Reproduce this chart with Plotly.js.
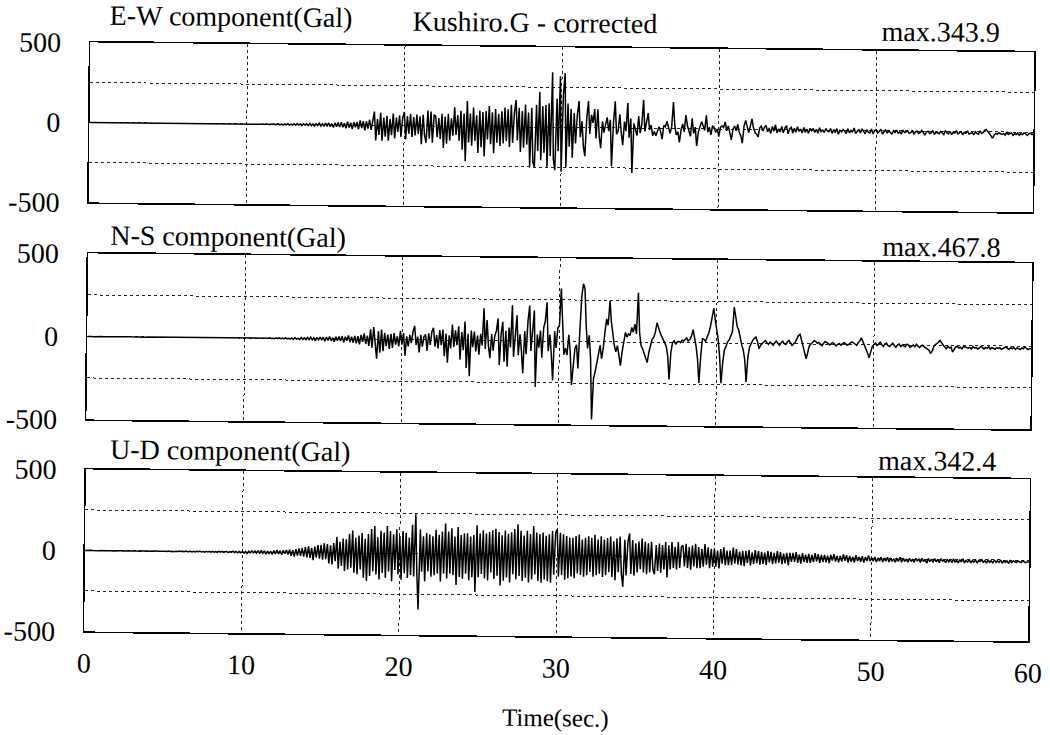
<!DOCTYPE html>
<html><head><meta charset="utf-8">
<script src="https://cdn.plot.ly/plotly-3.0.1.min.js"></script>
<style>
html,body{margin:0;padding:0;background:#fff;overflow:hidden}
#chart{width:1050px;height:735px;transform:rotate(0.6deg);transform-origin:525px 367px;}
</style>
</head><body><div id="chart"></div>
<script>
// Sampling of the records (seconds)
const startTime = 0;
const sampleStep = 0.1;

// E-W component acceleration (Gal), one row per second
const ewAccel = [
0,0,1,0,0,-1,0,0,1,0,
0,-1,0,1,0,0,-1,0,0,1,
0,0,-1,0,1,0,0,1,0,-1,
0,1,0,0,-1,0,1,0,0,0,
-1,0,1,0,0,-1,0,0,1,0,
0,0,-1,1,0,0,1,-1,0,0,
1,0,0,-1,0,1,0,0,-1,0,
0,1,-1,0,0,1,0,-1,0,1,
0,-1,0,1,0,0,-1,1,0,0,
1,0,-1,0,2,-1,0,1,-2,0,
2,-1,0,2,-2,1,0,-1,2,-1,
3,-2,1,2,-3,2,-1,3,-2,1,
4,-3,2,-4,3,-2,5,-4,2,-3,
5,-4,6,-3,4,-6,5,-2,6,-5,
8,-6,5,-9,7,-4,10,-8,6,-10,
12,-9,14,-11,8,-15,13,-10,16,-12,
18,-14,12,-20,22,-16,15,-24,19,-13,
20,-25,30,-18,26,-32,24,-20,35,-28,
30,86,-94,40,-60,80,-95,50,-70,60,
-95,40,-60,75,-80,50,-40,65,-70,50,
86,-85,60,-50,75,-70,55,-60,70,-50,
60,-115,70,-60,-105,96,-80,90,-105,70,
60,-70,50,-80,77,-136,60,-110,77,-90,
50,-60,118,-55,70,-90,97,-146,80,-218,
158,-100,80,-120,118,-90,70,-166,100,-130,
90,-187,97,-80,128,-110,90,-166,110,-100,
80,-120,97,-105,120,-90,110,-126,138,-100,
90,168,-85,120,-156,100,-130,140,-110,90,
-248,120,-220,-248,140,-150,219,-207,130,-160,
138,-248,150,-180,343.9,-200,-268,180,-150,320,
-278,200,339,-250,150,-120,116,-189,90,-100,
80,166,-60,40,-118,-179,60,166,-40,80,
30,116,-67,116,-50,-128,40,-30,20,65,
-20,50,-240,30,166,-40,-20,85,-30,-108,
40,-20,156,-60,60,-280,30,-20,-47,75,
-30,20,177,-20,40,95,-10,20,-47,-20,
-47,-10,10,-20,-67,20,10,45,0,-30,
10,166,20,-40,-20,-87,-10,30,-20,85,
20,-20,-47,65,-30,10,-108,-20,20,45,
20,-10,85,-20,10,-37,20,10,-20,0,
-47,10,20,10,45,-10,20,-20,-67,0,
20,-10,30,-20,-40,-87,20,55,10,-20,
20,65,10,-20,-30,-47,10,20,-10,15,
25,-15,10,-25,20,-10,30,-20,5,-15,
20,-20,10,25,-25,5,15,-20,10,-15,
20,-10,5,-20,15,-15,5,-20,10,-5,
10,-15,5,-20,15,-10,0,-15,10,-5,
-10,10,-20,5,-15,10,-25,0,-10,5,
-5,-20,10,-15,0,-10,15,-20,-5,5,
-15,10,-5,-20,5,-10,-15,10,-20,0,
5,-15,-5,10,-20,-10,5,-15,0,-10,
-20,0,-10,5,-15,-5,-20,5,-10,-5,
0,-15,-10,5,-20,-5,0,-15,-10,5,
-10,-25,-5,0,-15,-10,5,-20,-5,-10,
-15,0,-10,-20,5,-10,-15,0,-20,-5,
-10,5,-15,-10,0,-20,-5,-10,5,-15,
-10,-5,-20,0,-10,-15,5,-10,-5,10,
15,5,-10,-25,-40,-20,-10,-15,-5,-10,
-15,-10,-20,0,-15,-10,-5,-20,-10,-15,
-5,-20,-10,-15,-5,-10,-20,-10,-5,-15,
-10
];

// N-S component acceleration (Gal)
const nsAccel = [
0,1,0,0,-1,0,0,1,0,0,
-1,0,0,1,0,-1,0,0,1,0,
0,0,1,-1,0,0,1,0,-1,0,
1,0,0,-1,0,1,0,-1,0,0,
0,1,0,0,-1,0,0,1,-1,0,
0,-1,1,0,0,-1,0,1,0,0,
1,0,-1,0,1,0,0,-1,0,1,
0,0,1,0,-1,1,0,0,-1,0,
0,1,0,-1,0,0,1,0,0,-1,
1,0,-1,1,0,-1,2,0,-1,1,
0,1,-1,2,0,-1,1,0,-2,1,
2,-1,0,2,-2,1,3,-1,0,-2,
3,-2,4,-1,2,-3,5,-2,1,-4,
4,-5,6,-3,2,-6,7,-4,5,-6,
8,-5,10,-7,6,-12,9,-6,11,-8,
10,-14,12,-9,15,-11,8,-16,13,-10,
16,-12,18,-20,14,-10,22,-18,15,-22,
20,-25,18,-30,26,-15,35,-28,22,-40,
60,-50,74,-40,-116,50,-80,60,-70,40,
-40,30,-56,34,-50,40,-30,20,-40,54,
-30,40,-96,20,-40,30,-20,50,84,-30,
20,-76,30,-40,20,34,-66,40,-30,50,
74,-40,30,-50,60,-30,64,-96,40,-136,
30,-50,94,-40,60,-30,84,-116,50,-60,
114,-166,40,-216,60,-40,54,-66,30,-86,
40,-30,194,-50,124,-30,-106,40,-60,30,
60,134,-146,40,114,-126,60,-156,80,-40,
214,-96,60,154,-86,40,-60,-196,60,-80,
120,214,-60,60,184,-276,40,-40,64,-100,
80,120,234,-60,40,-80,-236,60,-40,80,
94,318,60,-80,-40,-82,40,-60,-262,-120,
-42,-20,-162,60,268,348,320,100,-40,38,
-100,-467.8,-222,-180,-122,-60,-22,-102,-40,60,
138,100,248,120,38,-20,-60,-22,-80,-142,
-60,0,58,30,50,40,88,60,108,50,
298,58,-20,-40,-72,-100,-122,-60,-20,18,
30,60,118,80,60,38,20,0,-22,-80,
-222,-60,0,10,-10,5,8,0,15,10,
20,28,10,20,40,78,30,-22,-100,-242,
-80,28,20,10,38,60,100,150,208,140,
78,20,-80,-242,-120,-42,-20,8,20,40,
68,218,150,100,78,30,-10,-42,-100,-232,
-80,-22,0,20,30,38,10,-32,-10,0,
10,18,5,-5,10,0,-10,5,15,0,
-10,5,15,0,-5,10,20,5,-10,0,
10,30,50,58,20,0,-40,-90,-50,-10,
0,10,20,15,5,10,0,-10,5,15,
10,0,-5,5,10,0,-10,0,5,-5,
0,10,5,-5,0,10,15,10,0,-5,
10,20,40,20,0,-20,-50,-80,-40,-10,
0,10,-5,5,15,0,-10,5,10,-5,
-10,0,10,-5,-15,0,5,-10,0,-5,
-10,5,0,-15,-5,0,-10,5,-5,-15,
-5,0,-10,-15,-20,-30,-50,-35,-10,5,
10,20,30,15,0,-10,-20,-5,-15,-10,
-40,-25,-10,-5,-15,-10,-20,-5,-10,-15,
-15,-10,-20,-5,-15,-10,-20,-15,-5,-10,
-20,-10,-15,-5,-20,-10,-15,-20,-10,-15,
-10,-20,-15,-10,-5,-15,-20,-10,-15,-10,
-20,-10,-15,-20,-10,-15,-5,-15,-20,-15,
-15
];

// U-D component acceleration (Gal)
const udAccel = [
0,1,-1,0,1,0,-1,0,1,-1,
0,1,-1,1,0,-1,1,0,-1,0,
1,-1,0,1,-1,0,1,-1,1,0,
-1,1,0,-1,1,-1,0,1,-1,1,
0,-1,1,0,-1,2,-1,0,1,-2,
1,0,-1,2,-1,1,-2,1,0,-1,
2,-1,1,-2,2,-1,0,2,-2,1,
-2,2,-1,3,-2,1,-3,2,-1,3,
-2,3,-2,1,-3,4,-2,3,-4,2,
3,-4,2,-3,5,-3,4,-5,3,-4,
5,-6,4,-8,6,-5,7,-4,8,-6,
10,-8,12,-6,9,-11,8,-10,7,-12,
12,-10,15,-9,11,-14,13,-8,16,-12,
18,-20,15,-25,22,-18,26,-20,30,-24,
35,-28,40,-32,30,-45,38,-30,48,-36,
50,-42,60,-38,55,-65,48,-70,62,-50,
100,-97,70,-80,90,-110,85,-100,120,-90,
140,-120,95,-130,110,-100,125,-150,90,-170,
120,-140,150,-110,170,-130,100,-160,140,-120,
130,-150,170,-110,140,-170,120,-100,150,-128,
110,-160,140,-120,130,-150,100,-130,180,-140,
245,-120,-342.4,150,-110,109,-169,130,-107,120,
-140,110,-130,150,-120,120,-169,140,-120,190,
-150,140,-120,160,-130,110,-190,169,-140,120,
-150,130,-120,130,-160,110,-140,120,-231,180,
-140,130,-120,150,-148,130,-160,140,-110,150,
-150,160,-130,140,-190,120,-160,150,-140,130,
-170,140,-120,160,-150,190,-130,150,-160,120,
-140,150,-170,130,-150,180,-120,140,-160,130,
-170,140,-150,120,-160,130,-170,150,-120,140,
160,-130,140,-120,130,-150,120,-140,110,-130,
110,-140,120,-110,130,-120,100,-130,110,-120,
120,-100,110,-130,130,-120,100,-110,120,-130,
100,-120,110,-100,120,-130,90,-150,110,-100,
120,-110,-190,100,-120,90,140,-110,100,-120,
80,-100,90,-80,110,-100,90,-110,80,-100,
90,-80,-110,70,-90,80,-100,70,-80,90,
-130,70,-80,90,-70,60,-80,90,-70,60,
70,-60,80,-70,60,-80,70,-60,80,-70,
60,-70,50,-60,80,-50,60,-70,50,-60,
50,-60,40,-70,50,-40,60,-50,40,-50,
40,-50,60,-40,50,-45,35,-50,40,-55,
40,-35,45,-50,30,-40,45,-35,40,-45,
35,-40,30,-45,40,-30,35,-40,30,-35,
40,-30,35,-40,25,-35,30,-45,30,-25,
30,-25,35,-30,20,-35,30,-25,20,-30,
25,-30,20,-25,30,-20,25,-30,20,-25,
20,-25,15,-30,20,-15,25,-20,15,-25,
15,-20,25,-15,20,-25,15,-20,10,-25,
20,-15,10,-20,15,-25,10,-15,20,-15,
5,-15,10,-20,5,-15,10,-20,5,-15,
10,-20,5,-15,0,-20,5,-15,10,-20,
5,-15,0,-20,5,-15,0,-20,5,-10,
0,-20,5,-15,0,-25,5,-15,0,-20,
5,-15,0,-20,5,-10,-5,-20,0,-15,
0,-20,5,-15,-5,-20,0,-15,5,-20,
-5,-15,0,-20,-5,-15,0,-20,-5,-10,
0,-15,-5,-20,0,-15,-5,-20,0,-15,
-5,-15,0,-20,-5,-15,-5,-20,0,-15,
-5,-10,-15,-5,-10,-15,-5,-10,-15,-10,
-10
];

// Text
const panelLabels = ["E-W component(Gal)", "N-S component(Gal)", "U-D component(Gal)"];
const maxLabels = ["max.343.9", "max.467.8", "max.342.4"];
const chartTitle = "Kushiro.G - corrected";
const xTitle = "Time(sec.)";
const xTickVals = [0, 10, 20, 30, 40, 50, 60];
const yTickVals = [-500, 0, 500];
const yTickText = ["-500", "0", "500"];

const serif = "Liberation Serif";
const series = [ewAccel, nsAccel, udAccel];

const traces = series.map((vals, i) => ({
  type: "scatter",
  mode: "lines",
  x0: startTime,
  dx: sampleStep,
  y: vals,
  xaxis: i === 0 ? "x" : "x" + (i + 1),
  yaxis: i === 0 ? "y" : "y" + (i + 1),
  line: {color: "#000", width: 1.5},
  hoverinfo: "skip",
  showlegend: false
}));

const domains = [[0.7284, 1], [0.3599, 0.6418], [0, 0.2750]];

function xAxis(i) {
  return {
    range: [0, 60],
    tickvals: xTickVals,
    ticktext: xTickVals.map(String),
    showticklabels: i === 2,
    ticks: "",
    ticklabelstandoff: 6,
    showgrid: true,
    griddash: "dot",
    gridcolor: "#222",
    gridwidth: 1,
    zeroline: false,
    showline: true,
    mirror: true,
    linecolor: "#000",
    linewidth: 1.6,
    anchor: i === 0 ? "y" : "y" + (i + 1),
    tickfont: {family: serif, size: 28, color: "#000"},
    title: i === 2 ? {text: xTitle, font: {family: serif, size: 25, color: "#000"}, standoff: 26} : {text: ""},
    automargin: false,
    fixedrange: true
  };
}
function yAxis(i) {
  return {
    domain: domains[i],
    range: [-500, 500],
    tickvals: yTickVals,
    ticktext: yTickText,
    ticks: "",
    ticklabelstandoff: 22,
    showgrid: false,
    zeroline: false,
    showline: true,
    mirror: true,
    linecolor: "#000",
    linewidth: 1.6,
    minor: {dtick: 250, tick0: 0, showgrid: true, griddash: "dot", gridcolor: "#222", gridwidth: 1, ticks: ""},
    anchor: i === 0 ? "x" : "x" + (i + 1),
    tickfont: {family: serif, size: 28, color: "#000"},
    automargin: false,
    fixedrange: true
  };
}

const annFont = {family: serif, size: 28, color: "#000"};
const labelPos = [[0.018, 1.047], [0.021, 0.674], [0.023, 0.309]];
const maxPos = [[0.965, 1.033], [0.968, 0.668], [0.966, 0.3056]];
const annotations = [];
panelLabels.forEach((t, i) => annotations.push({
  text: t, xref: "paper", yref: "paper", x: labelPos[i][0], y: labelPos[i][1],
  xanchor: "left", yanchor: "middle", showarrow: false, font: annFont
}));
maxLabels.forEach((t, i) => annotations.push({
  text: t, xref: "paper", yref: "paper", x: maxPos[i][0], y: maxPos[i][1],
  xanchor: "right", yanchor: "middle", showarrow: false, font: annFont
}));

const layout = {
  width: 1050, height: 735,
  margin: {l: 87, r: 19, t: 47, b: 99},
  paper_bgcolor: "#fff", plot_bgcolor: "#fff",
  font: {family: serif, color: "#000"},
  title: {text: chartTitle, xref: "paper", x: 0.341, xanchor: "left", yref: "container", y: 0.970, yanchor: "middle", font: annFont},
  showlegend: false,
  annotations: annotations,
  xaxis: xAxis(0), xaxis2: xAxis(1), xaxis3: xAxis(2),
  yaxis: yAxis(0), yaxis2: yAxis(1), yaxis3: yAxis(2)
};

Plotly.newPlot("chart", traces, layout, {staticPlot: true, displayModeBar: false});
</script>
</body></html>
